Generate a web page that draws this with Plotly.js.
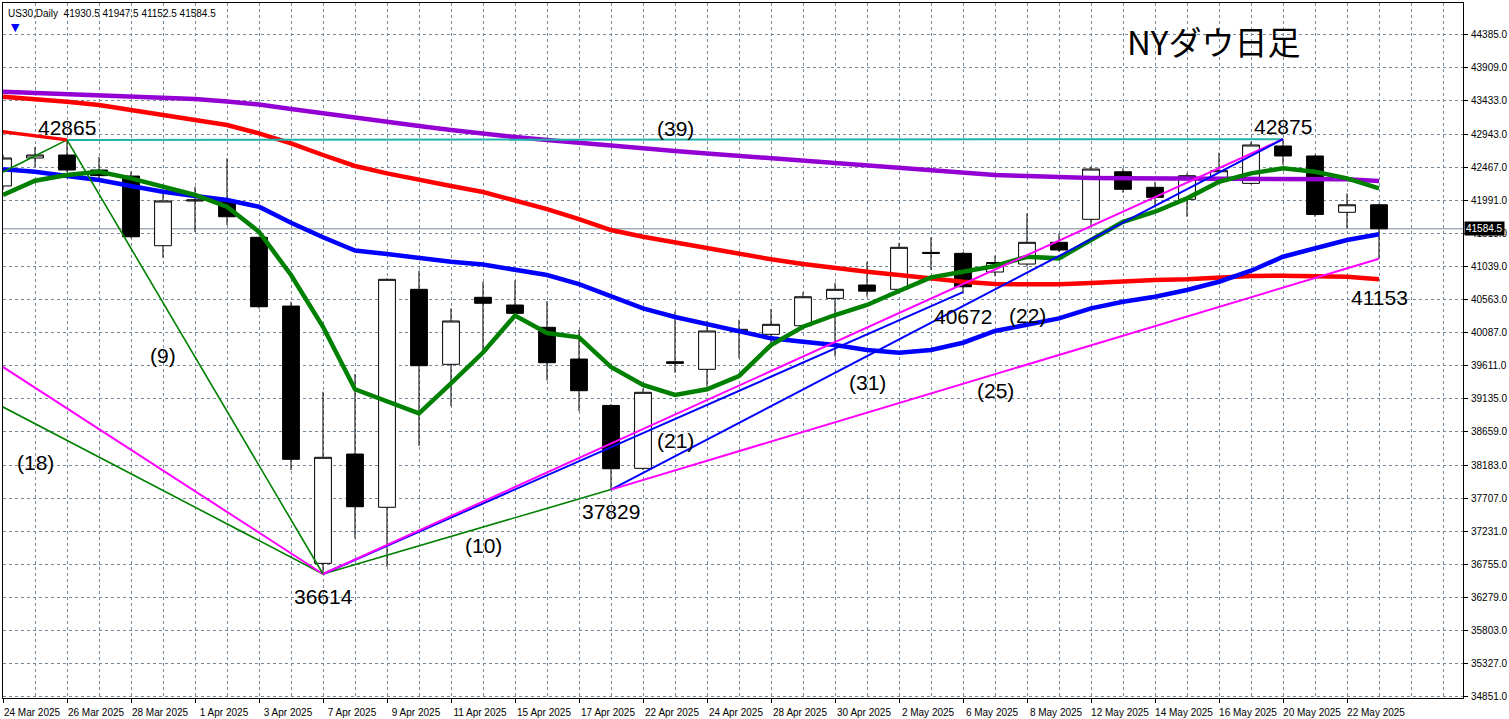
<!DOCTYPE html>
<html>
<head>
<meta charset="utf-8">
<script src="https://cdn.plot.ly/plotly-3.0.1.min.js"></script>
<style>
html,body{margin:0;padding:0;background:#ffffff;}
#chart{width:1509px;height:719px;}
</style>
</head>
<body>
<div id="chart"></div>
<script>
// ---------------- DATA ----------------
const symbol = 'US30,Daily';
const chartTitle = 'NYダウ日足';

const dates = ['24 Mar 2025','25 Mar 2025','26 Mar 2025','27 Mar 2025','28 Mar 2025','31 Mar 2025',
  '1 Apr 2025','2 Apr 2025','3 Apr 2025','4 Apr 2025','7 Apr 2025','8 Apr 2025','9 Apr 2025','10 Apr 2025',
  '11 Apr 2025','14 Apr 2025','15 Apr 2025','16 Apr 2025','17 Apr 2025','21 Apr 2025','22 Apr 2025',
  '23 Apr 2025','24 Apr 2025','25 Apr 2025','28 Apr 2025','29 Apr 2025','30 Apr 2025','1 May 2025',
  '2 May 2025','5 May 2025','6 May 2025','7 May 2025','8 May 2025','9 May 2025','12 May 2025',
  '13 May 2025','14 May 2025','15 May 2025','16 May 2025','19 May 2025','20 May 2025','21 May 2025',
  '22 May 2025','23 May 2025'];

const openP  = [42201,42604,42647,42431,42344,41341,41985,41974,41462,40472,36767,38341,37574,40713,
  39633,40598,40487,40166,39709,39041,38135,39670,39561,40102,40065,40189,40583,40775,40713,41245,
  41231,40962,41077,41390,41721,42406,42182,42009,42287,42239,42777,42633,41822,41930.5];
const highP  = [42650,42766,42865,42620,42407,42100,42190,42599,41470,40534,39239,39493,40870,40981,
  40439,40822,40843,40544,40127,39060,39283,40390,40261,40276,40429,40670,40808,41110,41384,41462,
  41250,41200,41807,41519,42479,42455,42262,42383,42680,42838,42875,42650,42095,41947.5];
const lowP   = [42150,42478,42400,42300,41450,41168,41542,41639,40439,38111,36614,37127,36718,38457,
  39032,39814,40300,39401,38960,37829,38110,39512,39311,39720,39935,40150,39744,40606,40655,40991,
  40672,40900,41040,41250,41625,42104,41902,41758,42240,42225,42503,41758,41591,41152.5];
const closeP = [42604,42647,42431,42350,41470,41985,42000,41758,40462,38265,38294,37582,40857,39613,
  40257,40512,40367,39656,39253,38129,39230,39647,40113,40137,40209,40606,40713,40687,41318,41230,
  40750,41099,41390,41279,42445,42153,42038,42349,42421,42791,42633,41791,41930.5,41584.5];

// moving averages
const maGreen  = [42071,42277,42359,42406,42311,42190,42071,41902,41542,40919,40174,39273,39105,38927,
  39359,39803,40336,40084,40022,39594,39335,39191,39273,39465,39911,40174,40343,40487,40689,40886,
  40966,41049,41182,41159,41423,41686,41830,42023,42262,42383,42455,42406,42311,42167];
const maBlue   = [42441,42406,42345,42287,42201,42118,42057,41999,41902,41672,41462,41272,41221,41159,
  41110,41070,40998,40919,40789,40609,40439,40314,40209,40102,40007,39958,39911,39839,39800,39839,
  39944,40113,40199,40295,40439,40534,40606,40703,40822,40981,41182,41303,41423,41505];
const maRed    = [43486,43453,43414,43367,43295,43230,43165,43079,42959,42815,42647,42489,42383,42287,
  42201,42114,41999,41869,41725,41567,41470,41387,41303,41221,41145,41077,41015,40966,40919,40869,
  40822,40789,40779,40785,40804,40833,40847,40857,40880,40905,40909,40909,40894,40857];
const maPurple = [43558,43543,43525,43507,43488,43471,43453,43417,43374,43309,43245,43180,43115,43065,
  43007,42949,42906,42863,42820,42777,42741,42705,42669,42633,42597,42561,42525,42489,42453,42417,
  42388,42359,42345,42326,42316,42311,42311,42311,42311,42311,42311,42308,42297,42273];

// price axis tick labels
const yTicks = [44385,43909,43433,42943,42467,41991,41515,41039,40563,40087,39611,39135,38659,38183,
  37707,37231,36755,36279,35803,35327,34851];

// swing points (bar index, price) and their labels
const pivotIdx   = [2, 10, 19, 30, 40, 43];
const pivotPrice = [42865, 36614, 37829, 40672, 42875, 41152.5];
const pivotText  = ['42865','36614','37829','40672','42875','41153'];

// off-chart starting points of lines entering from the left (bar index, price)
const entryIdx   = [-7, -7, -3, -4];
const entryPrice = [40701, 41680, 41708, 43216];

// bar-count labels (bar index, price)
const countText  = ['(18)','(9)','(39)','(10)','(21)','(31)','(22)','(25)'];
const countIdx   = [1, 5, 21, 15, 21, 27, 32, 31];
const countPrice = [38226, 39753, 43036, 37017, 38543, 39378, 40343, 39263];

// ---------------- STYLE ----------------
const GRID = '#778899';
const FONT = 'Liberation Sans, Arial, sans-serif';
const C = {green:'#008000', blue:'#0000FF', red:'#FF0000', purple:'#9400D3',
           magenta:'#FF00FF', teal:'#20B2AA'};

const idx = dates.map((d,i)=>i);
const n = dates.length;

// segments: endpoints reference pivots (p) or entries (e)
const segments = [
  {a:['e',0], b:['p',1], color:C.green,   width:1.6},
  {a:['e',1], b:['p',1], color:C.magenta, width:2},
  {a:['e',2], b:['p',0], color:C.green,   width:1.6},
  {a:['e',3], b:['p',0], color:C.red,     width:3.5},
  {a:['p',0], b:['p',4], color:C.teal,    width:2},
  {a:['p',0], b:['p',1], color:C.green,   width:1.6},
  {a:['p',1], b:['p',2], color:C.green,   width:1.6},
  {a:['p',1], b:['p',3], color:C.blue,    width:2},
  {a:['p',1], b:['p',4], color:C.magenta, width:2},
  {a:['p',2], b:['p',4], color:C.blue,    width:2},
  {a:['p',2], b:['p',5], color:C.magenta, width:2}
];
function pt(ref){
  return ref[0]==='p' ? [pivotIdx[ref[1]], pivotPrice[ref[1]]] : [entryIdx[ref[1]], entryPrice[ref[1]]];
}

const traces = [];
traces.push({
  type:'candlestick', x:idx, open:openP, high:highP, low:lowP, close:closeP,
  increasing:{line:{color:'#000000', width:1}, fillcolor:'#FFFFFF'},
  decreasing:{line:{color:'#000000', width:1}, fillcolor:'#000000'},
  whiskerwidth:0, hoverinfo:'skip', showlegend:false
});
[[maPurple,C.purple],[maRed,C.red],[maBlue,C.blue],[maGreen,C.green]].forEach(([arr,col])=>{
  traces.push({type:'scatter', mode:'lines', x:idx, y:arr, line:{color:col, width:4.5},
    hoverinfo:'skip', showlegend:false});
});
segments.forEach(s=>{
  const A = pt(s.a), B = pt(s.b);
  traces.push({type:'scatter', mode:'lines', x:[A[0],B[0]], y:[A[1],B[1]],
    line:{color:s.color, width:s.width}, hoverinfo:'skip', showlegend:false});
});

// ---------------- ANNOTATIONS ----------------
const pivotShift = [12, -23, -22, -24, 13, -39];
const annotations = [];
pivotIdx.forEach((xi,i)=>{
  annotations.push({x:xi, y:pivotPrice[i], xref:'x', yref:'y', text:pivotText[i], showarrow:false,
    xanchor:'center', yanchor:'middle', yshift:pivotShift[i],
    font:{family:FONT, size:21, color:'#000'}});
});
countText.forEach((t,i)=>{
  annotations.push({x:countIdx[i], y:countPrice[i], xref:'x', yref:'y', text:t, showarrow:false,
    xanchor:'center', yanchor:'middle', font:{family:FONT, size:21, color:'#000'}});
});
const last = n-1;
annotations.push({xref:'paper', yref:'paper', x:0, y:1, xanchor:'left', yanchor:'top', xshift:3, yshift:-3,
  showarrow:false, text: symbol + '  ' + [openP[last],highP[last],lowP[last],closeP[last]].map(v=>v.toFixed(1)).join(' '),
  font:{family:FONT, size:10, color:'#000'}});
annotations.push({xref:'paper', yref:'paper', x:0, y:1, xanchor:'center', yanchor:'middle', xshift:12, yshift:-24,
  showarrow:false, text:'▼', font:{family:'DejaVu Sans', size:11, color:'#0000FF'}});
annotations.push({xref:'paper', yref:'paper', x:(1213-3)/1460, y:(698-41)/695, xanchor:'center', yanchor:'middle',
  showarrow:false, text:chartTitle, font:{family:'Noto Sans CJK JP, sans-serif', size:33, color:'#000'}});
annotations.push({xref:'paper', yref:'y', x:1, y:closeP[last], xanchor:'left', yanchor:'middle', xshift:1,
  showarrow:false, text:closeP[last].toFixed(1), bgcolor:'#000000', borderpad:1,
  font:{family:FONT, size:10, color:'#FFFFFF'}});

const evens = idx.filter(i=>i%2===0);

const layout = {
  width:1509, height:719,
  margin:{l:3, r:46, t:3, b:21, pad:0},
  paper_bgcolor:'#FFFFFF', plot_bgcolor:'#FFFFFF',
  showlegend:false, boxgap:0.25, dragmode:false,
  xaxis:{
    range:[0, 45.625], type:'linear', fixedrange:true,
    tickmode:'array', tickvals:evens, ticktext:evens.map(i=>dates[i]),
    ticks:'outside', ticklen:4, tickcolor:'#000', tickwidth:1,
    ticklabelshift:29, ticklabelstandoff:1,
    tickfont:{family:FONT, size:10, color:'#000'},
    showgrid:true, gridcolor:GRID, gridwidth:1, griddash:'3px,3px',
    minor:{tick0:0, dtick:1, showgrid:true, gridcolor:GRID, gridwidth:1, griddash:'3px,3px', ticks:''},
    showline:true, linecolor:'#000', linewidth:1, mirror:true, zeroline:false,
    rangeslider:{visible:false}
  },
  yaxis:{
    side:'right', range:[34828, 44836], fixedrange:true,
    tickmode:'array', tickvals:yTicks, ticktext:yTicks.map(v=>v.toFixed(1)),
    ticks:'outside', ticklen:4, tickcolor:'#000', tickwidth:1, ticklabelstandoff:1,
    tickfont:{family:FONT, size:10, color:'#000'},
    showgrid:true, gridcolor:GRID, gridwidth:1, griddash:'3px,3px',
    showline:true, linecolor:'#000', linewidth:1, mirror:true, zeroline:false
  },
  shapes:[{type:'line', xref:'paper', yref:'y', x0:0, x1:1, y0:closeP[last], y1:closeP[last],
    line:{color:'#778899', width:1}, layer:'below'}],
  annotations:annotations
};

Plotly.newPlot('chart', traces, layout, {displayModeBar:false, staticPlot:true});
</script>
</body>
</html>
